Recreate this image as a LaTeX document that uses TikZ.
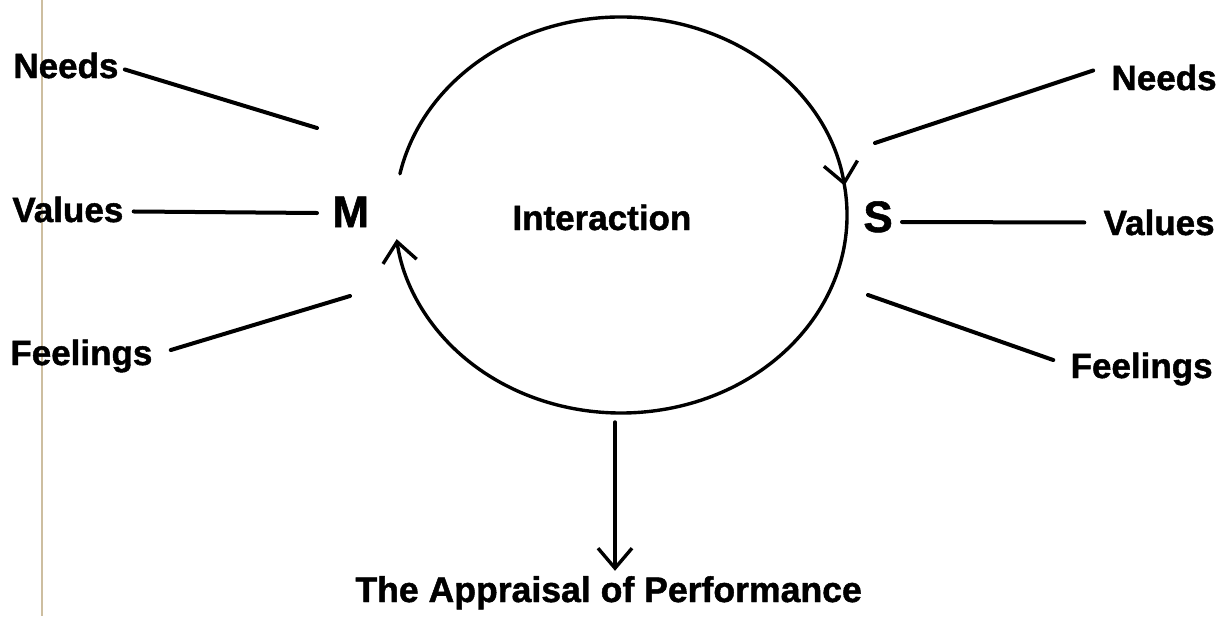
\documentclass[tikz,border=0pt]{standalone}
\usepackage{fontspec}
\setmainfont{Liberation Sans}[BoldFeatures={FakeBold=1.3}]
\usetikzlibrary{arrows.meta}
\begin{document}
\begin{tikzpicture}[x=0.5pt,y=-0.5pt,
  label/.style={font=\bfseries\fontsize{17.5}{20}\selectfont, inner sep=0pt},
  actor/.style={font=\bfseries\fontsize{22}{26}\selectfont, inner sep=0pt},
  link/.style={line width=2pt, line cap=round},
  flow/.style={line width=1.7pt, line cap=round,
    -{Straight Barb[length=10pt,width=17pt,line width=1.7pt]}}]
\useasboundingbox (0,0) rectangle (1225,616);
\fill[white] (0,0) rectangle (1225,616);
% page edge
\draw[line width=0.6pt, color={rgb,255:red,205;green,190;blue,160}] (42,0) -- (42,616);

% central actors
\node[actor, anchor=base west] (M) at (332,227) {M};
\node[actor, anchor=base west] (S) at (863,232) {S};
\node[label, anchor=base west] (inter) at (512,230) {Interaction};

% left labels
\node[label, anchor=base west] (needsL) at (13,78) {Needs};
\node[label, anchor=base west] (valuesL) at (12,222) {Values};
\node[label, anchor=base west] (feelL) at (10,365) {Feelings};

% right labels
\node[label, anchor=base east] (needsR) at (1217,90) {Needs};
\node[label, anchor=base east] (valuesR) at (1215,235) {Values};
\node[label, anchor=base east] (feelR) at (1213,378) {Feelings};

% outcome
\node[label, anchor=base west, font=\bfseries\fontsize{17.8}{20}\selectfont] (appraisal) at (355,602) {The Appraisal of Performance};

% free ends of the spokes, beside M and S
\coordinate (mNeeds) at (317,128);
\coordinate (mValues) at (317,213);
\coordinate (mFeel) at (350,296);
\coordinate (sNeeds) at (875,143);
\coordinate (sValues) at (902,222);
\coordinate (sFeel) at (868,295);

% spokes
\draw[link] ([shift={(6,4)}]needsL.east) -- (mNeeds);
\draw[link] ([shift={(10,2)}]valuesL.east) -- (mValues);
\draw[link] ([shift={(18,-6)}]feelL.east) -- (mFeel);
\draw[link] ([shift={(-18,-7)}]needsR.west) -- (sNeeds);
\draw[link] ([shift={(-19,0)}]valuesR.west) -- (sValues);
\draw[link] ([shift={(-17,-9)}]feelR.west) -- (sFeel);

% interaction cycle
\coordinate (ctr) at (621,215);
\draw[flow] ([shift={(-168:226 and 198)}]ctr) arc[start angle=-168, end angle=-8.5, x radius=226, y radius=198];
\draw[flow] ([shift={(-9:226 and 198)}]ctr) arc[start angle=-9, end angle=173, x radius=226, y radius=198];

% result arrow
\coordinate (cycBottom) at (615,422);
\draw[flow, shorten >=2.5pt] (cycBottom) -- (cycBottom |- appraisal.north);
\end{tikzpicture}
\end{document}
